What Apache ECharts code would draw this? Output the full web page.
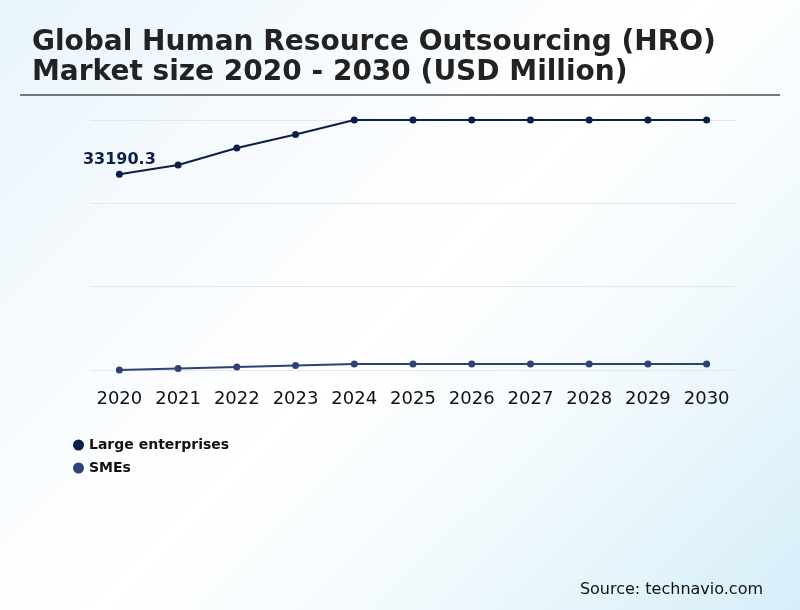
<!DOCTYPE html>
<html>
<head>
<meta charset="utf-8">
<script src="https://cdn.jsdelivr.net/npm/echarts@6/dist/echarts.min.js"></script>
<style>
html,body{margin:0;padding:0;width:800px;height:610px;overflow:hidden;}
body{background:linear-gradient(135deg,#e9f5fc 0%,#f7fbfe 30%,#ffffff 50%,#f3fafd 70%,#d6eef9 100%);}
#c{width:800px;height:610px;}
</style>
</head>
<body>
<div id="c"></div>
<script>
const years = ['2020','2021','2022','2023','2024','2025','2026','2027','2028','2029','2030'];
const largeEnterprises = [33190.3, 34289, 36310, 37916, 39640, 39640, 39640, 39640, 39640, 39640, 39640];
const smes = [9910, 10088, 10267, 10445, 10624, 10624, 10624, 10624, 10624, 10624, 10624];
const yMin = 9910, yInterval = 9910, yMax = 39640;

const chart = echarts.init(document.getElementById('c'), null, {renderer:'canvas'});
chart.setOption({
  backgroundColor: 'transparent',
  animation: false,
  title: {
    text: 'Global Human Resource Outsourcing (HRO)\nMarket size 2020 - 2030 (USD Million)',
    left: 27, top: 23,
    textStyle: {fontFamily: 'DejaVu Sans', fontWeight: 'bold', fontSize: 28, color: '#222', lineHeight: 30}
  },
  graphic: [
    {type: 'line', shape: {x1: 20, y1: 95, x2: 780, y2: 95}, style: {stroke: '#777', lineWidth: 2}},
    {type: 'text', right: 37, top: 582, style: {text: 'Source: technavio.com', font: '16px "DejaVu Sans"', fill: '#111'}}
  ],
  legend: {
    orient: 'vertical', left: 68, top: 433, itemGap: 9,
    icon: 'circle', itemWidth: 11, itemHeight: 11,
    textStyle: {fontFamily: 'DejaVu Sans', fontWeight: 'bold', fontSize: 14, color: '#111'},
    data: ['Large enterprises', 'SMEs']
  },
  grid: {left: 90, right: 64, top: 120, height: 250, containLabel: false},
  xAxis: {
    type: 'category', data: years, boundaryGap: true,
    axisLine: {show: false}, axisTick: {show: false},
    axisLabel: {interval: 0, fontFamily: 'DejaVu Sans', fontSize: 18, color: '#111', margin: 20}
  },
  yAxis: {
    type: 'value', min: yMin, max: yMax, interval: yInterval,
    axisLabel: {show: false}, axisLine: {show: false}, axisTick: {show: false},
    splitLine: {lineStyle: {color: '#e3e6ea', width: 1}}
  },
  series: [
    {
      name: 'Large enterprises', type: 'line', data: largeEnterprises,
      color: '#0c1f47', symbol: 'circle', symbolSize: 7,
      lineStyle: {width: 2, color: '#0c1f47'},
      label: {
        show: true, position: 'top', distance: 3,
        formatter: p => p.dataIndex === 0 ? String(p.value) : '',
        fontFamily: 'DejaVu Sans', fontWeight: 'bold', fontSize: 16, color: '#0c1f47'
      }
    },
    {
      name: 'SMEs', type: 'line', data: smes,
      color: '#2d4275', symbol: 'circle', symbolSize: 7,
      lineStyle: {width: 2, color: '#2d4275'}
    }
  ]
});
</script>
</body>
</html>
